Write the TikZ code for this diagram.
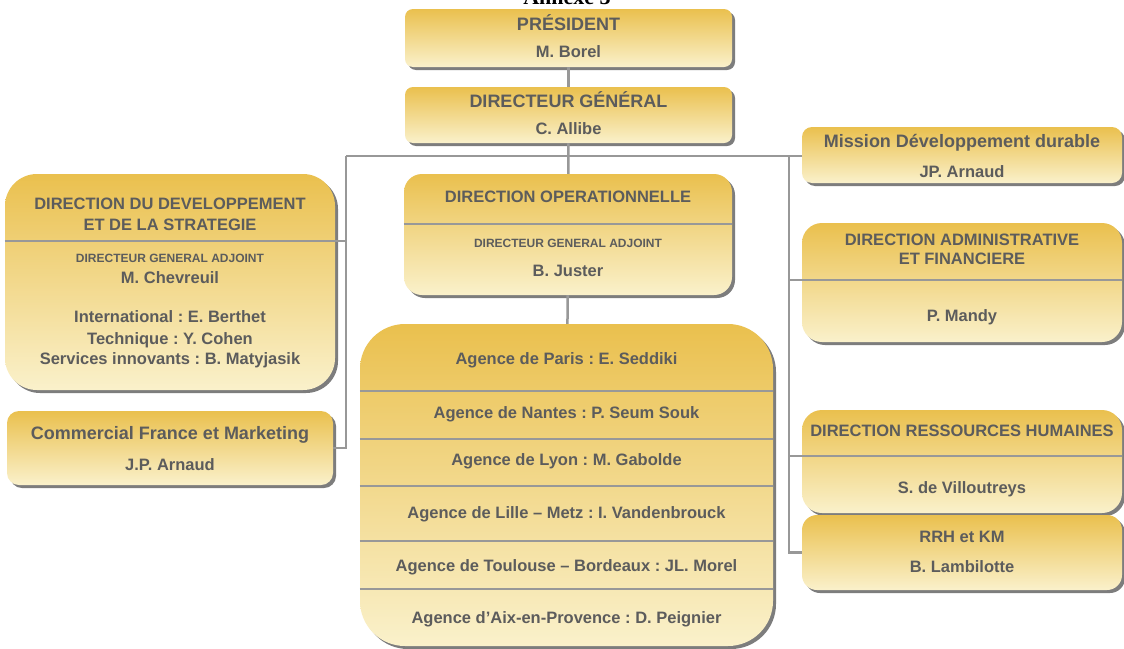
\documentclass[tikz,border=0pt]{standalone}
\usepackage{fontspec}
\setmainfont{Liberation Sans}
\newfontfamily\titlefont{Liberation Serif}
\usetikzlibrary{calc,shadows}
\frenchspacing

\definecolor{gold}{RGB}{234,192,78}
\definecolor{cream}{RGB}{250,241,203}
\definecolor{inkgray}{RGB}{92,92,92}
\definecolor{linegray}{RGB}{152,152,152}
\definecolor{shadowgray}{RGB}{125,125,125}

\begin{document}
\begin{tikzpicture}[
  x=1pt, y=-1pt,
  box/.style={top color=gold, bottom color=cream, draw=none, inner sep=0pt,
    drop shadow={shadow xshift=3pt, shadow yshift=-3pt, fill=shadowgray, opacity=1}},
  big/.style={anchor=base, font=\fontsize{18}{21}\selectfont\bfseries, text=inkgray},
  person/.style={anchor=base, font=\fontsize{16.5}{20}\selectfont\bfseries, text=inkgray},
  tiny/.style={anchor=base, font=\fontsize{12}{14}\selectfont\bfseries, text=inkgray},
  link/.style={draw=linegray, line width=2.5pt},
  rule/.style={draw=linegray, line width=1.8pt}
]
\path[fill=white, use as bounding box] (0,0) rectangle (1124,648);

\node[anchor=base, font=\titlefont\bfseries\fontsize{22}{26}\selectfont] (annexe) at (567,4) {Annexe 3};

% centre column
\node[box, rounded corners=8pt, minimum width=327pt, minimum height=58pt] (pres) at (568.5,38) {};
\node[big] (pres-title) at ($(pres.north)+(0,22)$) {PRÉSIDENT};
\node[person] (pres-name) at ($(pres.north)+(0,49)$) {M. Borel};

\node[box, rounded corners=8pt, minimum width=327pt, minimum height=56pt] (dg) at (568.5,115) {};
\node[big] (dg-title) at ($(dg.north)+(0,21)$) {DIRECTEUR GÉNÉRAL};
\node[person] (dg-name) at ($(dg.north)+(0,48)$) {C. Allibe};

\node[box, rounded corners=18pt, minimum width=328pt, minimum height=121pt] (dirop) at (568,234.5) {};
\coordinate (dirop-div) at ($(dirop.north east)+(0,50)$);
\draw[rule] (dirop.west |- dirop-div) -- (dirop-div);
\node[person] (dirop-title) at ($(dirop.north)+(0,29)$) {DIRECTION OPERATIONNELLE};
\node[tiny] (dirop-role) at ($(dirop.north)+(0,74)$) {DIRECTEUR GENERAL ADJOINT};
\node[person] (dirop-name) at ($(dirop.north)+(0,103)$) {B. Juster};

\node[box, rounded corners=45pt, minimum width=413pt, minimum height=322pt] (agences) at (566.5,485) {};
\foreach \dy in {67,115,162,217,265}
  \draw[rule] ($(agences.north west)+(0,\dy)$) -- ($(agences.north east)+(0,\dy)$);
\foreach \dy/\txt [count=\i] in {41/{Agence de Paris : E. Seddiki},
    95/{Agence de Nantes : P. Seum Souk}, 142/{Agence de Lyon : M. Gabolde},
    195/{Agence de Lille – Metz : I. Vandenbrouck},
    248/{Agence de Toulouse – Bordeaux : JL. Morel},
    300/{Agence d’Aix-en-Provence : D. Peignier}}
  \node[person] (agence-\i) at ($(agences.north)+(0,\dy)$) {\txt};

% left column
\node[box, rounded corners=32pt, minimum width=330pt, minimum height=216pt] (dds) at (170,282) {};
\coordinate (dds-div) at ($(dds.north east)+(0,67)$);
\draw[rule] (dds.west |- dds-div) -- (dds-div);
\node[person] (dds-title1) at ($(dds.north)+(0,36)$) {DIRECTION DU DEVELOPPEMENT};
\node[person] (dds-title2) at ($(dds.north)+(0,57)$) {ET DE LA STRATEGIE};
\node[tiny] (dds-role) at ($(dds.north)+(0,89)$) {DIRECTEUR GENERAL ADJOINT};
\node[person] (dds-name) at ($(dds.north)+(0,110)$) {M. Chevreuil};
\node[person] (dds-intl) at ($(dds.north)+(0,149)$) {International : E. Berthet};
\node[person] (dds-tech) at ($(dds.north)+(0,171)$) {Technique : Y. Cohen};
\node[person] (dds-serv) at ($(dds.north)+(0,191)$) {Services innovants : B. Matyjasik};

\node[box, rounded corners=12pt, minimum width=326pt, minimum height=74pt] (comm) at (170,448) {};
\node[big] (comm-title) at ($(comm.north)+(0,29)$) {Commercial France et Marketing};
\node[person] (comm-name) at ($(comm.north)+(0,60)$) {J.P. Arnaud};

% right column
\node[box, rounded corners=10pt, minimum width=320pt, minimum height=56pt] (mission) at (962,155) {};
\node[big] (mission-title) at ($(mission.north)+(0,21)$) {Mission Développement durable};
\node[person] (mission-name) at ($(mission.north)+(0,51)$) {JP. Arnaud};

\node[box, rounded corners=20pt, minimum width=320pt, minimum height=119pt] (daf) at (962,282.5) {};
\coordinate (daf-div) at ($(daf.north west)+(0,57)$);
\draw[rule] (daf-div) -- (daf.east |- daf-div);
\node[person] (daf-title1) at ($(daf.north)+(0,23)$) {DIRECTION ADMINISTRATIVE};
\node[person] (daf-title2) at ($(daf.north)+(0,42)$) {ET FINANCIERE};
\node[person] (daf-name) at ($(daf.north)+(0,99)$) {P. Mandy};

\node[box, rounded corners=20pt, minimum width=320pt, minimum height=103pt] (drh) at (962,461.5) {};
\coordinate (drh-div) at ($(drh.north west)+(0,46)$);
\draw[rule] (drh-div) -- (drh.east |- drh-div);
\node[person] (drh-title) at ($(drh.north)+(0,27)$) {DIRECTION RESSOURCES HUMAINES};
\node[person] (drh-name) at ($(drh.north)+(0,84)$) {S. de Villoutreys};

\node[box, rounded corners=15pt, minimum width=320pt, minimum height=75pt] (rrh) at (962,552.5) {};
\node[person] (rrh-title) at ($(rrh.north)+(0,28)$) {RRH et KM};
\node[person] (rrh-name) at ($(rrh.north)+(0,58)$) {B. Lambilotte};

% connectors
\coordinate (busL) at (346,156);
\coordinate (busR) at (789,156);
\draw[link] (pres) -- (dg);
\draw[link] (dg) -- (dirop);
\draw[link] (dirop) -- (agences);
\draw[link] (busL) -- (busL -| mission.west);
\draw[link] (busL) |- (comm.east);
\draw[link] (dds-div) -- (dds-div -| busL);
\draw[link] (busR) |- (rrh.west);
\draw[link] (daf-div) -- (daf-div -| busR);
\draw[link] (drh-div) -- (drh-div -| busR);

\end{tikzpicture}
\end{document}
